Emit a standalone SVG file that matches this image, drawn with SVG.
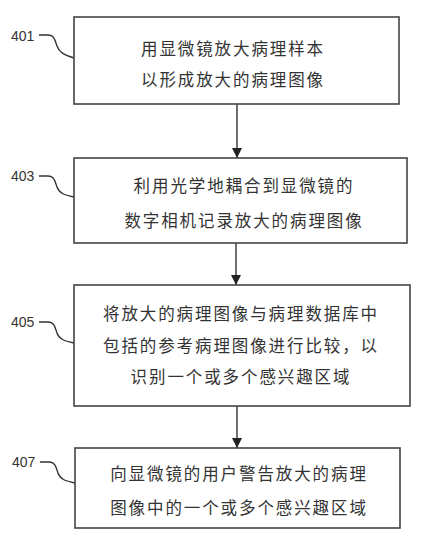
<svg xmlns="http://www.w3.org/2000/svg" width="432" height="551" viewBox="0 0 432 551">
<defs>
<style>
.box{fill:#fff;stroke:#444;stroke-width:1.6}
.t{font-family:"Noto Sans CJK SC","Noto Sans",sans-serif;font-size:16.5px;letter-spacing:1.9px;fill:#333;text-anchor:middle;dominant-baseline:central}
.lbl{font-family:"Liberation Sans",Arial,sans-serif;font-size:14px;fill:#333;dominant-baseline:central}
.ln{fill:none;stroke:#333;stroke-width:1.4}
</style>
<marker id="ah" viewBox="0 0 10 10" refX="10" refY="5" markerWidth="10" markerHeight="10" markerUnits="userSpaceOnUse" orient="auto">
<path d="M0,0 L10,5 L0,10 Z" fill="#222"/>
</marker>
</defs>
<rect width="432" height="551" fill="#fff"/>
<g id="connectors">
<line class="ln" x1="237" y1="104" x2="237" y2="158" marker-end="url(#ah)"/>
<line class="ln" x1="236" y1="243" x2="236" y2="285" marker-end="url(#ah)"/>
<line class="ln" x1="237" y1="406" x2="237" y2="448" marker-end="url(#ah)"/>
<path class="ln" d="M39,35 L48,35 C54,35 55,40 57,46 C59,52 64,55 74,58"/>
<path class="ln" d="M39,176 L48,176 C54,176 55,181 57,187 C59,193 64,195 74,197"/>
<path class="ln" d="M39,322 L48,322 C54,322 55,327 57,333 C59,339 64,341 74,343"/>
<path class="ln" d="M40,462 L49,462 C55,462 56,467 58,473 C60,479 65,481 75,483"/>
</g>
<g id="node401">
<rect class="box" x="74" y="17" width="325" height="87"/>
<text class="t" x="233" y="48">用显微镜放大病理样本</text>
<text class="t" x="233" y="79">以形成放大的病理图像</text>
<text class="lbl" x="11" y="36">401</text>
</g>
<g id="node403">
<rect class="box" x="74" y="158" width="333" height="85"/>
<text class="t" x="244" y="185">利用光学地耦合到显微镜的</text>
<text class="t" x="244" y="220">数字相机记录放大的病理图像</text>
<text class="lbl" x="11" y="176">403</text>
</g>
<g id="node405">
<rect class="box" x="74" y="285" width="336" height="121"/>
<text class="t" x="241" y="313">将放大的病理图像与病理数据库中</text>
<text class="t" x="241" y="345">包括的参考病理图像进行比较，以</text>
<text class="t" x="241" y="376">识别一个或多个感兴趣区域</text>
<text class="lbl" x="11" y="322">405</text>
</g>
<g id="node407">
<rect class="box" x="75" y="448" width="325" height="80"/>
<text class="t" x="239" y="473">向显微镜的用户警告放大的病理</text>
<text class="t" x="239" y="507">图像中的一个或多个感兴趣区域</text>
<text class="lbl" x="12" y="462">407</text>
</g>
</svg>
